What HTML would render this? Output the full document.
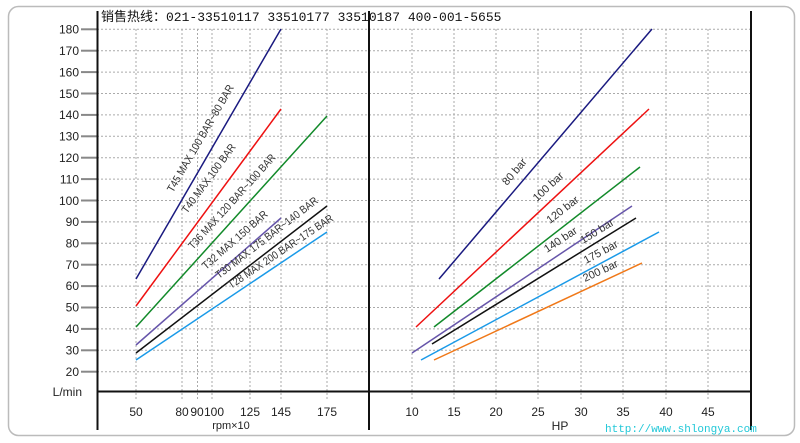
<!DOCTYPE html>
<html><head><meta charset="utf-8"><style>
html,body{margin:0;padding:0;background:#fff;}
svg{display:block;}
text{font-family:"Liberation Sans",Arial,sans-serif;}
</style></head><body>
<svg width="800" height="443" viewBox="0 0 800 443" xmlns="http://www.w3.org/2000/svg">
<rect x="8.5" y="6.5" width="786" height="429" rx="10" fill="#fff" stroke="#bbb" stroke-width="1.5"/>
<g stroke="#aaa" stroke-width="1" stroke-dasharray="2,2">
<line x1="97" y1="29.3" x2="751" y2="29.3"/><line x1="97" y1="50.7" x2="751" y2="50.7"/>
<line x1="97" y1="72.1" x2="751" y2="72.1"/><line x1="97" y1="93.5" x2="751" y2="93.5"/>
<line x1="97" y1="114.9" x2="751" y2="114.9"/><line x1="97" y1="136.3" x2="751" y2="136.3"/>
<line x1="97" y1="157.7" x2="751" y2="157.7"/><line x1="97" y1="179.1" x2="751" y2="179.1"/>
<line x1="97" y1="200.5" x2="751" y2="200.5"/><line x1="97" y1="221.9" x2="751" y2="221.9"/>
<line x1="97" y1="243.3" x2="751" y2="243.3"/><line x1="97" y1="264.7" x2="751" y2="264.7"/>
<line x1="97" y1="286.1" x2="751" y2="286.1"/><line x1="97" y1="307.5" x2="751" y2="307.5"/>
<line x1="97" y1="328.9" x2="751" y2="328.9"/><line x1="97" y1="350.3" x2="751" y2="350.3"/>
<line x1="97" y1="371.7" x2="751" y2="371.7"/>
<line x1="136" y1="29" x2="136" y2="400"/><line x1="182" y1="29" x2="182" y2="400"/>
<line x1="197.5" y1="29" x2="197.5" y2="400"/><line x1="212" y1="29" x2="212" y2="400"/>
<line x1="250" y1="29" x2="250" y2="400"/><line x1="281" y1="29" x2="281" y2="400"/>
<line x1="327" y1="29" x2="327" y2="400"/>
<line x1="412" y1="29" x2="412" y2="400"/><line x1="454" y1="29" x2="454" y2="400"/>
<line x1="496" y1="29" x2="496" y2="400"/><line x1="538" y1="29" x2="538" y2="400"/>
<line x1="581" y1="29" x2="581" y2="400"/><line x1="623" y1="29" x2="623" y2="400"/>
<line x1="666" y1="29" x2="666" y2="400"/><line x1="708" y1="29" x2="708" y2="400"/>
</g>
<g stroke="#888" stroke-width="2">
<line x1="81" y1="29.3" x2="97" y2="29.3"/><line x1="81" y1="50.7" x2="97" y2="50.7"/>
<line x1="81" y1="72.1" x2="97" y2="72.1"/><line x1="81" y1="93.5" x2="97" y2="93.5"/>
<line x1="81" y1="114.9" x2="97" y2="114.9"/><line x1="81" y1="136.3" x2="97" y2="136.3"/>
<line x1="81" y1="157.7" x2="97" y2="157.7"/><line x1="81" y1="179.1" x2="97" y2="179.1"/>
<line x1="81" y1="200.5" x2="97" y2="200.5"/><line x1="81" y1="221.9" x2="97" y2="221.9"/>
<line x1="81" y1="243.3" x2="97" y2="243.3"/><line x1="81" y1="264.7" x2="97" y2="264.7"/>
<line x1="81" y1="286.1" x2="97" y2="286.1"/><line x1="81" y1="307.5" x2="97" y2="307.5"/>
<line x1="81" y1="328.9" x2="97" y2="328.9"/><line x1="81" y1="350.3" x2="97" y2="350.3"/>
<line x1="81" y1="371.7" x2="97" y2="371.7"/>
</g>
<g stroke="#111" stroke-width="2">
<line x1="97.5" y1="11" x2="97.5" y2="430"/>
<line x1="369" y1="11" x2="369" y2="430"/>
<line x1="751" y1="11" x2="751" y2="430"/>
<line x1="97" y1="391.5" x2="751" y2="391.5"/>
</g>
<g font-size="12" fill="#222" text-anchor="end">
<text x="79" y="33.5">180</text><text x="79" y="55">170</text><text x="79" y="76.5">160</text>
<text x="79" y="98">150</text><text x="79" y="119">140</text><text x="79" y="140.5">130</text>
<text x="79" y="162">120</text><text x="79" y="183.5">110</text><text x="79" y="205">100</text>
<text x="79" y="226">90</text><text x="79" y="247.5">80</text><text x="79" y="269">70</text>
<text x="79" y="290">60</text><text x="79" y="311.5">50</text><text x="79" y="333">40</text>
<text x="79" y="354.5">30</text><text x="79" y="376">20</text><text x="82" y="396">L/min</text>
</g>
<g font-size="12" fill="#222" text-anchor="middle">
<text x="136" y="416">50</text><text x="182" y="416">80</text><text x="197" y="416">90</text>
<text x="214" y="416">100</text><text x="250" y="416">125</text><text x="281" y="416">145</text>
<text x="327" y="416">175</text>
<text x="412" y="416">10</text><text x="454" y="416">15</text><text x="496" y="416">20</text>
<text x="538" y="416">25</text><text x="581" y="416">30</text><text x="623" y="416">35</text>
<text x="666" y="416">40</text><text x="708" y="416">45</text>
<text x="231" y="429" font-size="11">rpm×10</text>
<text x="560" y="430">HP</text>
</g>
<text x="101" y="21" font-size="13" fill="#111" style='font-family:"Liberation Mono","Noto Sans CJK SC",monospace'>销售热线：021-33510117 33510177 33510187 400-001-5655</text>
<text x="605" y="432" font-size="11" fill="#22c8d8" style='font-family:"Liberation Mono",monospace'>http://www.shlongya.com</text>
<g stroke-width="1.5" fill="none">
<line x1="136" y1="279" x2="281" y2="29" stroke="#1a1a80"/>
<line x1="136" y1="306" x2="281" y2="109" stroke="#ee1111"/>
<line x1="136" y1="327" x2="327" y2="116" stroke="#128a2a"/>
<line x1="136" y1="345" x2="281" y2="218" stroke="#6655aa"/>
<line x1="136" y1="353" x2="327" y2="206" stroke="#111"/>
<line x1="136" y1="360" x2="327" y2="232" stroke="#1a9ae8"/>
<line x1="439" y1="279" x2="652" y2="29" stroke="#1a1a80"/>
<line x1="416" y1="327" x2="649" y2="109" stroke="#ee1111"/>
<line x1="434" y1="327" x2="640" y2="167" stroke="#128a2a"/>
<line x1="412" y1="353" x2="632" y2="206" stroke="#6655aa"/>
<line x1="432" y1="344" x2="636" y2="218" stroke="#111"/>
<line x1="421" y1="360" x2="659" y2="232" stroke="#1a9ae8"/>
<line x1="434" y1="360" x2="642" y2="263" stroke="#f07818"/>
</g>
<g font-size="11" fill="#333">
<text transform="translate(173,193) rotate(-59.9)" textLength="122" lengthAdjust="spacingAndGlyphs">T45 MAX 100 BAR~80 BAR</text>
<text transform="translate(187,214) rotate(-53.6)" textLength="83" lengthAdjust="spacingAndGlyphs">T40 MAX 100 BAR</text>
<text transform="translate(193,250) rotate(-47.8)" textLength="124" lengthAdjust="spacingAndGlyphs">T36 MAX 120 BAR~100 BAR</text>
<text transform="translate(206,270) rotate(-41.2)" textLength="83" lengthAdjust="spacingAndGlyphs">T32 MAX 150 BAR</text>
<text transform="translate(219,279) rotate(-37.6)" textLength="126" lengthAdjust="spacingAndGlyphs">T30 MAX 175 BAR~140 BAR</text>
<text transform="translate(231,289) rotate(-33.8)" textLength="124" lengthAdjust="spacingAndGlyphs">T28 MAX 200 BAR~175 BAR</text>
<text transform="translate(507,186) rotate(-49.6)">80 bar</text>
<text transform="translate(537,202) rotate(-43.1)">100 bar</text>
<text transform="translate(550,224) rotate(-37.8)">120 bar</text>
<text transform="translate(547,253) rotate(-33.7)">140 bar</text>
<text transform="translate(583,244) rotate(-31.7)">150 bar</text>
<text transform="translate(586,264) rotate(-28.3)">175 bar</text>
<text transform="translate(585,282) rotate(-25)">200 bar</text>
</g>
</svg>
</body></html>
